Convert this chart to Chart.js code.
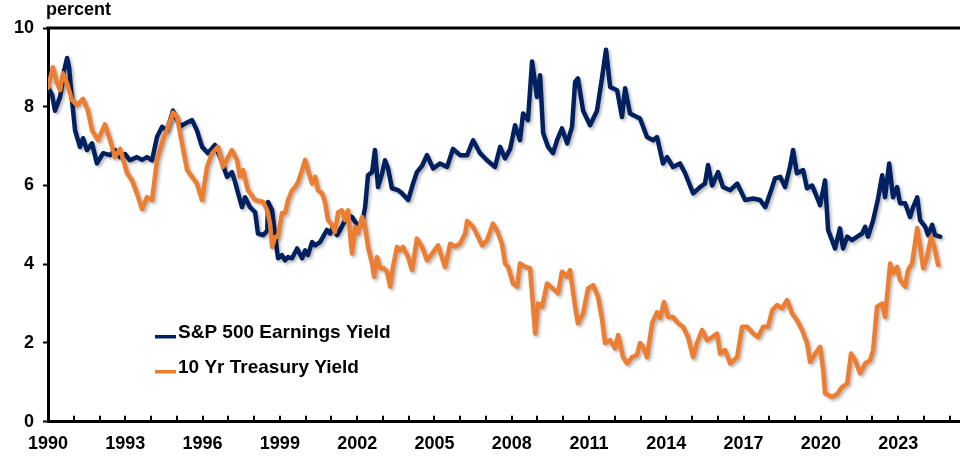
<!DOCTYPE html>
<html>
<head>
<meta charset="utf-8">
<script src="https://cdn.jsdelivr.net/npm/chart.js@4"></script>
<style>
  body { margin: 0; background: #fff; }
  #wrap { width: 960px; height: 458px; }
</style>
</head>
<body>
<div id="wrap"><canvas id="chart" width="960" height="458"></canvas></div>
<script>
// S&P 500 earnings yield (decimal year, percent)
const spDates = [
  1990.00, 1990.16, 1990.27, 1990.47, 1990.62, 1990.74, 1990.82, 1990.93, 1991.05, 1991.24,
  1991.36, 1991.51, 1991.71, 1991.90, 1992.14, 1992.41, 1992.60, 1992.80, 1992.99, 1993.18,
  1993.45, 1993.65, 1993.84, 1994.04, 1994.23, 1994.43, 1994.62, 1994.85, 1995.12, 1995.40,
  1995.59, 1995.78, 1995.98, 1996.21, 1996.48, 1996.68, 1996.95, 1997.14, 1997.26, 1997.38,
  1997.53, 1997.65, 1997.84, 1998.04, 1998.15, 1998.35, 1998.51, 1998.54, 1998.70, 1998.82,
  1998.93, 1999.08, 1999.20, 1999.32, 1999.47, 1999.67, 1999.86, 1999.98, 2000.09, 2000.25,
  2000.37, 2000.56, 2000.68, 2000.83, 2000.95, 2001.06, 2001.22, 2001.34, 2001.53, 2001.65,
  2001.80, 2002.00, 2002.19, 2002.31, 2002.42, 2002.58, 2002.69, 2002.81, 2002.97, 2003.08,
  2003.20, 2003.35, 2003.59, 2003.74, 2003.98, 2004.17, 2004.32, 2004.52, 2004.71, 2004.95,
  2005.22, 2005.49, 2005.72, 2005.99, 2006.27, 2006.50, 2006.77, 2007.04, 2007.35, 2007.55,
  2007.74, 2007.94, 2008.13, 2008.32, 2008.44, 2008.63, 2008.79, 2008.98, 2009.10, 2009.22,
  2009.41, 2009.60, 2009.76, 2009.95, 2010.15, 2010.34, 2010.46, 2010.57, 2010.77, 2011.04,
  2011.31, 2011.51, 2011.66, 2011.82, 2012.09, 2012.28, 2012.40, 2012.59, 2012.86, 2012.98,
  2013.25, 2013.49, 2013.64, 2013.87, 2014.03, 2014.26, 2014.53, 2014.73, 2015.04, 2015.31,
  2015.50, 2015.62, 2015.78, 2016.01, 2016.20, 2016.48, 2016.75, 2017.06, 2017.37, 2017.64,
  2017.84, 2018.03, 2018.22, 2018.42, 2018.61, 2018.80, 2018.92, 2019.07, 2019.31, 2019.46,
  2019.66, 2019.85, 2019.97, 2020.16, 2020.28, 2020.43, 2020.55, 2020.74, 2020.86, 2021.02,
  2021.21, 2021.41, 2021.60, 2021.72, 2021.83, 2022.03, 2022.22, 2022.38, 2022.49, 2022.65,
  2022.80, 2022.96, 2023.07, 2023.27, 2023.46, 2023.58, 2023.74, 2023.85, 2024.05, 2024.16,
  2024.32, 2024.43, 2024.63
];
const spYield = [
  8.48, 8.30, 7.90, 8.25, 8.90, 9.24, 9.00, 8.17, 7.40, 6.98,
  7.20, 6.90, 7.07, 6.56, 6.82, 6.77, 6.90, 6.72, 6.80, 6.64,
  6.72, 6.65, 6.72, 6.64, 7.23, 7.49, 7.40, 7.90, 7.50, 7.60,
  7.66, 7.40, 6.98, 6.82, 7.03, 6.72, 6.22, 6.34, 6.09, 5.80,
  5.45, 5.70, 5.45, 5.32, 4.78, 4.74, 4.85, 5.58, 5.37, 4.70,
  4.15, 4.23, 4.10, 4.18, 4.15, 4.40, 4.15, 4.35, 4.23, 4.56,
  4.48, 4.56, 4.70, 4.87, 4.78, 4.95, 4.74, 4.87, 5.12, 5.24,
  5.20, 5.00, 5.03, 5.45, 6.26, 6.34, 6.90, 5.96, 6.31, 6.64,
  6.43, 5.93, 5.88, 5.80, 5.63, 6.05, 6.34, 6.50, 6.77, 6.43,
  6.56, 6.47, 6.93, 6.77, 6.77, 7.15, 6.82, 6.64, 6.47, 6.98,
  6.69, 6.93, 7.53, 7.15, 7.83, 7.66, 9.15, 8.25, 8.80, 7.33,
  6.98, 6.82, 7.15, 7.45, 7.07, 7.49, 8.63, 8.72, 7.90, 7.53,
  7.90, 8.76, 9.45, 8.50, 8.42, 7.74, 8.47, 7.83, 7.74, 7.70,
  7.23, 7.15, 7.23, 6.56, 6.72, 6.47, 6.56, 6.31, 5.80, 5.96,
  6.05, 6.52, 6.00, 6.34, 5.96, 5.88, 6.05, 5.63, 5.67, 5.63,
  5.45, 5.80, 6.18, 6.22, 5.96, 6.47, 6.90, 6.31, 6.39, 5.93,
  6.00, 5.70, 5.50, 6.13, 4.87, 4.61, 4.40, 4.91, 4.40, 4.70,
  4.61, 4.70, 4.78, 4.95, 4.70, 5.12, 5.67, 6.26, 5.70, 6.56,
  5.70, 5.96, 5.55, 5.55, 5.20, 5.45, 5.70, 5.12, 4.95, 4.74,
  5.00, 4.74, 4.70
];

// 10 year treasury yield (decimal year, percent)
const tyDates = [
  1990.00, 1990.19, 1990.35, 1990.47, 1990.58, 1990.74, 1990.93, 1991.13, 1991.36, 1991.55,
  1991.71, 1991.94, 1992.21, 1992.41, 1992.60, 1992.80, 1993.07, 1993.26, 1993.45, 1993.65,
  1993.84, 1994.04, 1994.23, 1994.46, 1994.66, 1994.85, 1995.01, 1995.20, 1995.40, 1995.59,
  1995.78, 1995.98, 1996.17, 1996.37, 1996.60, 1996.79, 1996.99, 1997.14, 1997.34, 1997.45,
  1997.57, 1997.76, 1998.04, 1998.23, 1998.35, 1998.51, 1998.62, 1998.70, 1998.82, 1998.93,
  1999.08, 1999.20, 1999.32, 1999.47, 1999.59, 1999.71, 1999.86, 1999.98, 2000.09, 2000.25,
  2000.37, 2000.48, 2000.64, 2000.75, 2000.87, 2001.02, 2001.14, 2001.26, 2001.41, 2001.53,
  2001.65, 2001.72, 2001.80, 2001.92, 2002.03, 2002.19, 2002.31, 2002.42, 2002.58, 2002.66,
  2002.77, 2002.89, 2003.04, 2003.16, 2003.28, 2003.39, 2003.55, 2003.66, 2003.78, 2003.98,
  2004.13, 2004.32, 2004.52, 2004.71, 2004.91, 2005.14, 2005.41, 2005.61, 2005.80, 2005.99,
  2006.19, 2006.27, 2006.50, 2006.69, 2006.85, 2007.04, 2007.27, 2007.43, 2007.62, 2007.74,
  2007.86, 2008.05, 2008.21, 2008.32, 2008.52, 2008.71, 2008.91, 2009.02, 2009.18, 2009.37,
  2009.60, 2009.80, 2009.95, 2010.15, 2010.26, 2010.46, 2010.57, 2010.77, 2010.96, 2011.16,
  2011.35, 2011.51, 2011.62, 2011.82, 2012.01, 2012.13, 2012.32, 2012.48, 2012.67, 2012.86,
  2012.98, 2013.10, 2013.25, 2013.45, 2013.64, 2013.76, 2013.91, 2014.07, 2014.26, 2014.46,
  2014.65, 2014.84, 2015.04, 2015.19, 2015.39, 2015.58, 2015.78, 2015.97, 2016.09, 2016.28,
  2016.48, 2016.75, 2016.94, 2017.14, 2017.37, 2017.56, 2017.76, 2017.95, 2018.11, 2018.30,
  2018.49, 2018.69, 2018.88, 2019.07, 2019.27, 2019.46, 2019.58, 2019.78, 2019.97, 2020.09,
  2020.16, 2020.43, 2020.63, 2020.82, 2021.02, 2021.17, 2021.33, 2021.52, 2021.72, 2021.91,
  2022.03, 2022.18, 2022.38, 2022.49, 2022.69, 2022.80, 2022.96, 2023.07, 2023.27, 2023.38,
  2023.54, 2023.74, 2023.85, 2023.97, 2024.12, 2024.28, 2024.40, 2024.55
];
const tyYield = [
  8.48, 9.00, 8.60, 8.42, 8.85, 8.60, 8.17, 8.04, 8.20, 7.90,
  7.40, 7.15, 7.55, 7.15, 6.72, 6.93, 6.31, 6.13, 5.80, 5.40,
  5.70, 5.63, 6.64, 7.15, 7.49, 7.85, 7.74, 7.07, 6.39, 6.22,
  6.05, 5.63, 6.47, 6.82, 6.98, 6.47, 6.72, 6.90, 6.64, 6.22,
  6.39, 5.88, 5.63, 5.60, 5.58, 5.37, 5.03, 4.44, 4.70, 4.70,
  5.30, 5.30, 5.63, 5.88, 5.96, 6.09, 6.39, 6.65, 6.39, 6.05,
  6.22, 5.88, 5.80, 5.58, 5.12, 5.00, 4.82, 5.32, 5.37, 5.12,
  5.37, 4.78, 4.27, 4.95, 4.78, 5.20, 4.95, 4.44, 4.02, 3.68,
  4.18, 3.90, 3.90, 3.81, 3.43, 3.93, 4.44, 4.35, 4.44, 4.18,
  3.85, 4.65, 4.44, 4.10, 4.27, 4.48, 3.93, 4.52, 4.45, 4.52,
  4.78, 5.10, 4.95, 4.70, 4.48, 4.61, 5.03, 4.85, 4.52, 4.02,
  3.93, 3.51, 3.43, 4.02, 3.93, 3.90, 2.24, 3.00, 2.92, 3.51,
  3.38, 3.26, 3.81, 3.68, 3.85, 2.92, 2.50, 2.75, 3.38, 3.47,
  3.17, 2.58, 2.00, 2.07, 1.86, 2.20, 1.64, 1.48, 1.64, 1.69,
  2.00, 1.90, 1.64, 2.50, 2.78, 2.63, 3.04, 2.66, 2.66, 2.50,
  2.41, 2.15, 1.64, 2.00, 2.33, 2.07, 2.15, 2.24, 1.73, 1.82,
  1.48, 1.64, 2.41, 2.41, 2.24, 2.15, 2.41, 2.41, 2.83, 2.96,
  2.88, 3.09, 2.75, 2.58, 2.33, 2.00, 1.52, 1.73, 1.90, 1.31,
  0.72, 0.63, 0.70, 0.88, 0.97, 1.73, 1.56, 1.23, 1.48, 1.56,
  1.82, 2.92, 3.00, 2.66, 4.02, 3.77, 3.93, 3.60, 3.43, 3.85,
  4.02, 4.92, 4.44, 3.90, 4.18, 4.70, 4.44, 3.98
];

const yTicks = [0, 2, 4, 6, 8, 10];
const labelYears = [1990, 1993, 1996, 1999, 2002, 2005, 2008, 2011, 2014, 2017, 2020, 2023];

const NAVY = '#002060';
const ORANGE = '#ED7D31';
const FONT = '"Liberation Sans", Arial, sans-serif';

const toPoints = (xs, ys) => xs.map((x, i) => ({ x: x, y: ys[i] }));

// soft drop shadow behind the series lines
const shadowPlugin = {
    id: 'lineShadow',
    beforeDatasetsDraw(chart) {
        const ctx = chart.ctx;
        ctx.save();
        ctx.shadowColor = 'rgba(0,0,0,0.28)';
        ctx.shadowBlur = 3;
        ctx.shadowOffsetX = 2;
        ctx.shadowOffsetY = 2;
    },
    afterDatasetsDraw(chart) {
        chart.ctx.restore();
    }
};

// top frame line, inward year ticks, unit label and in-plot legend
const decorPlugin = {
    id: 'decor',
    afterDraw(chart) {
        const ctx = chart.ctx;
        const area = chart.chartArea;
        const xs = chart.scales.x;
        ctx.save();
        ctx.strokeStyle = '#000';
        ctx.lineWidth = 3;
        ctx.beginPath();
        ctx.moveTo(area.left - 1.5, area.top);
        ctx.lineTo(area.right, area.top);
        ctx.stroke();

        ctx.lineWidth = 2;
        for (let yr = 1991; yr <= 2025; yr++) {
            const px = Math.round(xs.getPixelForValue(yr));
            ctx.beginPath();
            ctx.moveTo(px, area.bottom);
            ctx.lineTo(px, area.bottom - 6);
            ctx.stroke();
        }

        ctx.fillStyle = '#000';
        ctx.font = 'bold 18px ' + FONT;
        ctx.textBaseline = 'alphabetic';
        ctx.textAlign = 'left';
        ctx.fillText('percent', 46, 15);

        ctx.font = 'bold 19px ' + FONT;
        const items = [
            { text: 'S&P 500 Earnings Yield', color: NAVY, y: 338 },
            { text: '10 Yr Treasury Yield', color: ORANGE, y: 373 }
        ];
        items.forEach(it => {
            ctx.fillStyle = it.color;
            ctx.fillRect(155, it.y - 3, 21, 3.5);
            ctx.fillStyle = '#000';
            ctx.fillText(it.text, 178, it.y);
        });
        ctx.restore();
    }
};

new Chart(document.getElementById('chart'), {
    type: 'line',
    data: {
        datasets: [
            {
                label: '10 Yr Treasury Yield',
                data: toPoints(tyDates, tyYield),
                borderColor: ORANGE,
                borderWidth: 4.5,
                borderJoinStyle: 'round',
                borderCapStyle: 'round',
                pointRadius: 0,
                tension: 0,
                order: 1
            },
            {
                label: 'S&P 500 Earnings Yield',
                data: toPoints(spDates, spYield),
                borderColor: NAVY,
                borderWidth: 4.5,
                borderJoinStyle: 'round',
                borderCapStyle: 'round',
                pointRadius: 0,
                tension: 0,
                order: 2
            }
        ]
    },
    options: {
        responsive: false,
        animation: false,
        devicePixelRatio: 1,
        layout: { padding: { top: 28, right: 0, left: 0, bottom: 0 } },
        plugins: {
            legend: { display: false },
            tooltip: { enabled: false }
        },
        scales: {
            x: {
                type: 'linear',
                min: 1990,
                max: 2025.4,
                afterFit: s => { s.height = 36.3; },
                afterBuildTicks: s => { s.ticks = labelYears.map(v => ({ value: v })); },
                grid: { display: false, drawTicks: false },
                border: { display: true, color: '#000', width: 3 },
                ticks: {
                    color: '#000',
                    padding: 12,
                    maxRotation: 0,
                    autoSkip: false,
                    font: { family: FONT, size: 18, weight: 'bold' },
                    callback: v => String(v)
                }
            },
            y: {
                min: 0,
                max: 10,
                afterFit: s => { s.width = 48; },
                afterBuildTicks: s => { s.ticks = yTicks.map(v => ({ value: v })); },
                grid: {
                    drawOnChartArea: false,
                    drawTicks: true,
                    tickLength: 5,
                    tickWidth: 2,
                    tickColor: '#000'
                },
                border: { display: true, color: '#000', width: 3 },
                ticks: {
                    color: '#000',
                    padding: 9,
                    font: { family: FONT, size: 18, weight: 'bold' }
                }
            }
        }
    },
    plugins: [shadowPlugin, decorPlugin]
});
</script>
</body>
</html>
